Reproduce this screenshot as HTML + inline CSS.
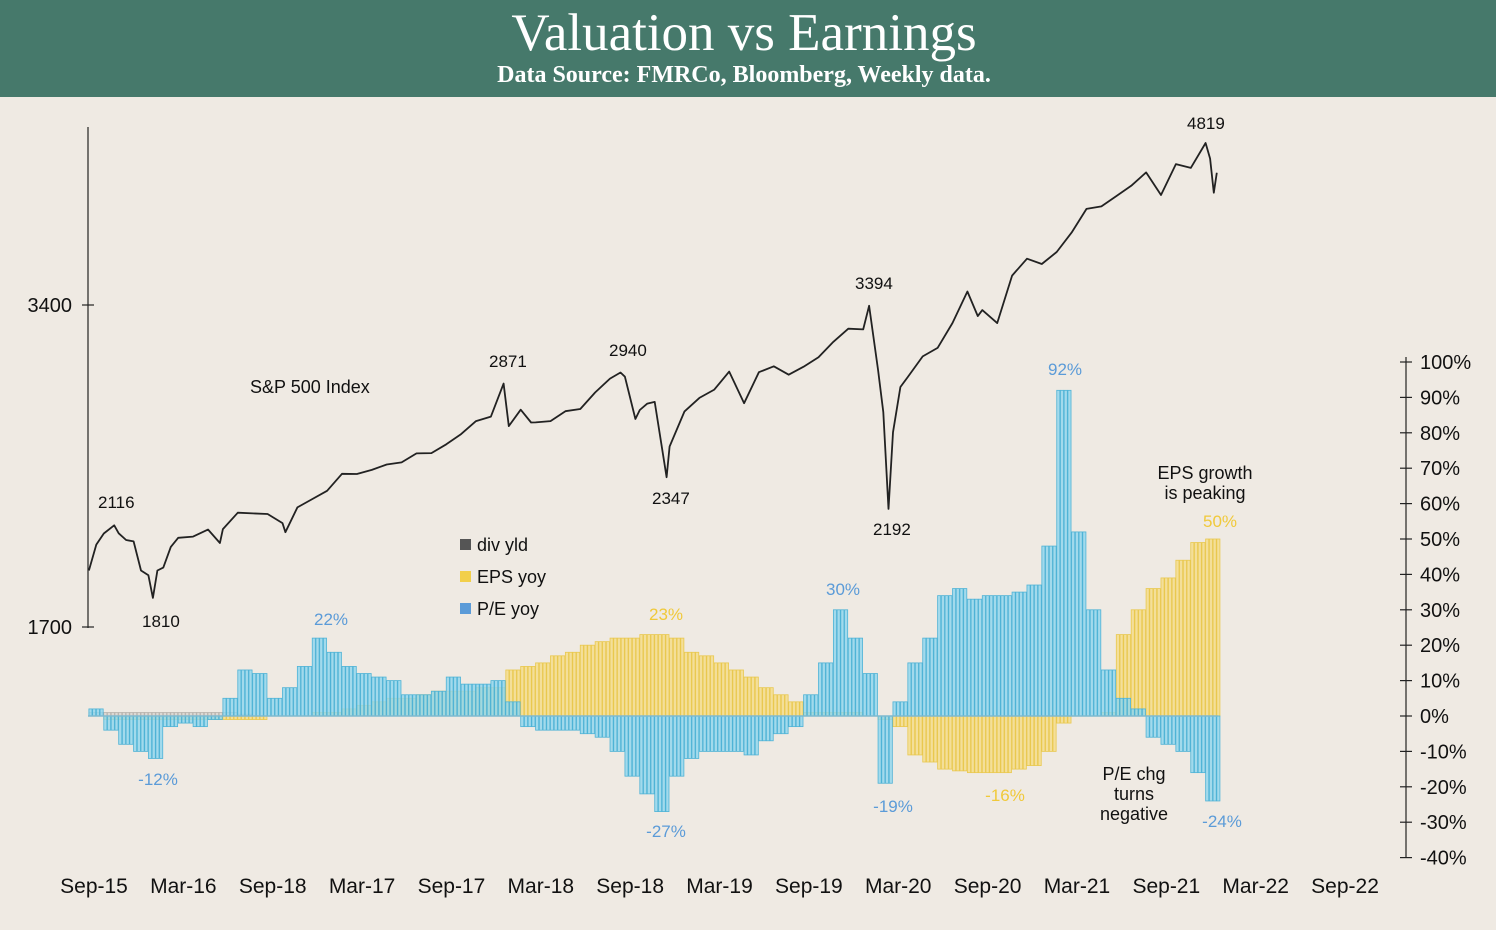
<!DOCTYPE html>
<html><head><meta charset="utf-8">
<style>
html,body{margin:0;padding:0;width:1496px;height:930px;overflow:hidden;background:#efeae3;}
svg{display:block;}
text{font-family:"Liberation Sans",sans-serif;}
.ser{font-family:"Liberation Serif",serif;}
</style></head>
<body>
<svg id="chart" width="1496" height="930" xmlns="http://www.w3.org/2000/svg">
  <rect x="0" y="0" width="1496" height="930" fill="#efeae3"/>
  <rect x="0" y="0" width="1496" height="97" fill="#46796b"/>
  <text class="ser" x="744" y="50" fill="#fff" font-size="53" text-anchor="middle">Valuation vs Earnings</text>
  <text class="ser" x="744" y="82" fill="#fff" font-size="24" font-weight="bold" text-anchor="middle">Data Source: FMRCo, Bloomberg, Weekly data.</text>
  <g id="bars"></g>
  <g id="line"></g>
  <g id="axes"></g>
  <g id="labels" font-size="17" fill="#111">
    <text x="250" y="393" font-size="18">S&amp;P 500 Index</text>
    <text x="98" y="508">2116</text>
    <text x="142" y="627">1810</text>
    <text x="489" y="367">2871</text>
    <text x="609" y="356">2940</text>
    <text x="652" y="504">2347</text>
    <text x="855" y="289">3394</text>
    <text x="873" y="535">2192</text>
    <text x="1187" y="129">4819</text>
    <text x="1205" y="479" font-size="18" text-anchor="middle">EPS growth</text>
    <text x="1205" y="499" font-size="18" text-anchor="middle">is peaking</text>
    <text x="1134" y="780" font-size="18" text-anchor="middle">P/E chg</text>
    <text x="1134" y="800" font-size="18" text-anchor="middle">turns</text>
    <text x="1134" y="820" font-size="18" text-anchor="middle">negative</text>
    <g fill="#5b9bd8">
      <text x="158" y="785" text-anchor="middle">-12%</text>
      <text x="331" y="625" text-anchor="middle">22%</text>
      <text x="666" y="837" text-anchor="middle">-27%</text>
      <text x="843" y="595" text-anchor="middle">30%</text>
      <text x="893" y="812" text-anchor="middle">-19%</text>
      <text x="1065" y="375" text-anchor="middle">92%</text>
      <text x="1222" y="827" text-anchor="middle">-24%</text>
    </g>
    <g fill="#f0c93a">
      <text x="666" y="620" text-anchor="middle">23%</text>
      <text x="1005" y="801" text-anchor="middle">-16%</text>
      <text x="1220" y="527" text-anchor="middle">50%</text>
    </g>
  </g>
  <g id="legend" font-size="18" fill="#111">
    <rect x="460" y="539" width="11" height="11" fill="#555"/>
    <text x="477" y="551">div yld</text>
    <rect x="460" y="571" width="11" height="11" fill="#f2cf4a"/>
    <text x="477" y="583">EPS yoy</text>
    <rect x="460" y="603" width="11" height="11" fill="#5b9bd8"/>
    <text x="477" y="615">P/E yoy</text>
  </g>
</svg>
<script>
// months since Sep 1 2015 for S&P points
const spxT = [1.0,1.5,2.0,2.7,3.0,3.5,4.0,4.5,5.0,5.3,5.6,6.0,6.5,7.0,8.0,9.0,9.8,10.0,11.0,12.0,13.0,14.0,14.2,15.0,16.0,17.0,18.0,19.0,20.0,21.0,22.0,23.0,24.0,25.0,26.0,27.0,28.0,28.85,29.2,30.0,30.7,31.0,32.0,33.0,34.0,35.0,36.0,36.7,37.0,37.7,38.0,38.5,39.0,39.8,40.0,41.0,42.0,43.0,44.0,45.0,46.0,47.0,48.0,49.0,50.0,51.0,52.0,53.0,53.4,54.0,54.35,54.7,55.0,55.5,56.0,57.0,58.0,59.0,60.0,60.7,61.0,62.0,63.0,64.0,65.0,66.0,67.0,68.0,69.0,70.0,71.0,72.0,73.0,74.0,75.0,76.0,76.3,76.55,76.75];
const spxV = [1920,2030,2079,2116,2080,2050,2044,1920,1900,1810,1920,1932,2020,2060,2065,2097,2037,2099,2174,2171,2168,2126,2085,2199,2239,2279,2364,2363,2384,2412,2423,2470,2472,2519,2575,2648,2674,2871,2620,2714,2640,2641,2648,2705,2718,2816,2902,2940,2914,2660,2712,2750,2760,2347,2507,2704,2784,2834,2946,2752,2942,2980,2926,2977,3038,3141,3231,3226,3394,2954,2700,2192,2585,2850,2912,3044,3100,3271,3500,3320,3363,3270,3622,3756,3714,3811,3973,4181,4204,4298,4395,4523,4308,4605,4567,4819,4660,4330,4520];
// monthly yoy bars, months 1..76 since Sep 2015
const months = Array.from({length:76},(_,i)=>i+1);
const peYoy = [2,-4,-8,-10,-12,-3,-2,-3,-1,5,13,12,5,8,14,22,18,14,12,11,10,6,6,7,11,9,9,10,4,-3,-4,-4,-4,-5,-6,-10,-17,-22,-27,-17,-12,-10,-10,-10,-11,-7,-5,-3,6,15,30,22,12,-19,4,15,22,34,36,33,34,34,35,37,48,92,52,30,13,5,2,-6,-8,-10,-16,-24];
const epsYoy = [0,-1,-1,-1,-1,-1,-1,-1,-1,-1,-1,-1,0,0,0,1,1,2,3,4,5,5,6,7,7,7,8,8,13,14,15,17,18,20,21,22,22,23,23,22,18,17,15,13,11,8,6,4,1,1,1,1,0,-1,-3,-11,-13,-15,-15.5,-16,-16,-16,-15,-14,-10,-2,0,0,1,23,30,36,39,44,49,50];
const divYld = [1,1,1,1,1,1,1,1,1,1,0.5,0,0,0,0,0,0,0,0,0,0,0,0,0,0,0,0,0,0,0,0,0,0,0,0,0,0,0,0,0,0,0,0,0,0,0,0,0,0,0,0,0,0,0,0,0,0,0,0,0,0,0,0,0,0,0,0,0,0,0,0,0,0,0,0,0];
const leftTicks = [3400,1700];
const rightTicks = [100,90,80,70,60,50,40,30,20,10,0,-10,-20,-30,-40];
const xLabels = ["Sep-15","Mar-16","Sep-18","Mar-17","Sep-17","Mar-18","Sep-18","Mar-19","Sep-19","Mar-20","Sep-20","Mar-21","Sep-21","Mar-22","Sep-22"];

const NS="http://www.w3.org/2000/svg";
const xT = m => 74 + m*14.89;
const yL = v => 305 + Math.log(3400/v)/Math.log(2)*322;
const yR = p => 716 - p*3.54;
function mk(tag, attrs, parent){const e=document.createElementNS(NS,tag);for(const k in attrs)e.setAttribute(k,attrs[k]);parent.appendChild(e);return e;}

const bars=document.getElementById('bars');
const MW=14.89, SUB=4;
function drawSeries(vals, fill, stroke, name){
  vals.forEach((v,i)=>{
    const m=months[i]; const x0=xT(m);
    const y0=yR(Math.max(v,0)), h=Math.abs(yR(v)-yR(0));
    if(h<0.3) return;
    for(let s=0;s<SUB;s++){
      const r=mk('rect',{x:(x0+s*MW/SUB).toFixed(2),y:y0.toFixed(2),width:(MW/SUB-0.6).toFixed(2),height:h.toFixed(2),fill:fill,stroke:stroke,'stroke-width':0.8,'fill-opacity':0.8},bars);
      
      
    }
  });
}
drawSeries(divYld,'#d8d4cf','#b9b4ae','div-yld-bar');
drawSeries(epsYoy,'#f5dc86','#e9c84e','eps-yoy-bar');
drawSeries(peYoy,'#8fd6ee','#4fb3d6','pe-yoy-bar');
const zl=mk('line',{x1:88,x2:1218,y1:yR(0),y2:yR(0),stroke:'#7fb9cf','stroke-width':1.5},bars);



const lg=document.getElementById('line');
const pts=spxT.map((t,i)=>xT(t).toFixed(1)+','+yL(spxV[i]).toFixed(1)).join(' ');
const pl=mk('polyline',{points:pts,fill:'none',stroke:'#222','stroke-width':1.8,'stroke-linejoin':'round'},lg);



const ax=document.getElementById('axes');
let l=mk('line',{x1:88,x2:88,y1:127,y2:628,stroke:'#222','stroke-width':1.2},ax);


leftTicks.forEach(v=>{
  const y=yL(v);
  const t=mk('line',{x1:82,x2:94,y1:y,y2:y,stroke:'#222','stroke-width':1.2},ax);
  
  
  const tx=mk('text',{x:72,y:y+7,'font-size':20,'text-anchor':'end',fill:'#111'},ax);
  tx.textContent=v;
  
  
});
l=mk('line',{x1:1406,x2:1406,y1:357,y2:858,stroke:'#222','stroke-width':1.2},ax);


rightTicks.forEach(p=>{
  const y=yR(p);
  const t=mk('line',{x1:1400,x2:1412,y1:y,y2:y,stroke:'#222','stroke-width':1.2},ax);
  
  
  const tx=mk('text',{x:1420,y:y+7,'font-size':20,fill:'#111'},ax);
  tx.textContent=p+'%';
  
  
});
xLabels.forEach((s,i)=>{
  const tx=mk('text',{x:94+i*89.36,y:893,'font-size':21,'text-anchor':'middle',fill:'#111'},ax);
  tx.textContent=s;
  
  
});
</script>
</body></html>
